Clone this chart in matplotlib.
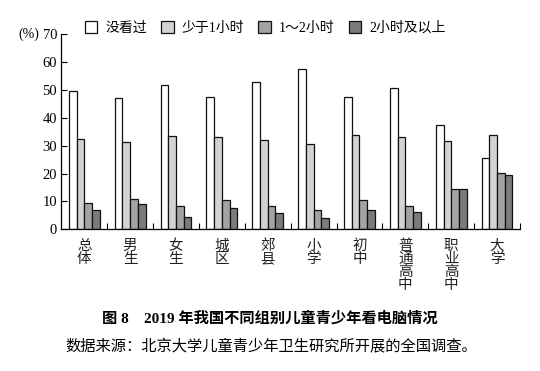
import matplotlib
matplotlib.use("Agg")
import matplotlib.pyplot as plt
import numpy as np

plt.rcParams['font.family'] = ['Liberation Serif', 'Noto Sans CJK SC', 'DejaVu Sans']

categories = ['总体', '男生', '女生', '城区', '郊县', '小学', '初中', '普通高中', '职业高中', '大学']
series_names = ['没看过', '少于1小时', '1～2小时', '2小时及以上']
never = [49.6, 47.1, 51.8, 47.5, 53.0, 57.5, 47.5, 50.7, 37.5, 25.7]
less1 = [32.3, 31.3, 33.5, 33.1, 32.0, 30.7, 33.8, 33.1, 31.7, 33.8]
one_two = [9.4, 10.9, 8.2, 10.6, 8.5, 6.8, 10.6, 8.5, 14.6, 20.3]
over2 = [7.0, 9.1, 4.5, 7.8, 5.7, 3.9, 6.8, 6.3, 14.6, 19.3]
yticks = [0, 10, 20, 30, 40, 50, 60, 70]

colors = ['#ffffff', '#d3d3d3', '#a3a3a3', '#7b7b7b']
data = [never, less1, one_two, over2]

fig = plt.figure(figsize=(5.4, 3.71), dpi=100)
ax = fig.add_axes([0.1135, 0.382, 0.8495, 0.526])

x = np.arange(len(categories))
w = 0.168
for i, (vals, c) in enumerate(zip(data, colors)):
    ax.bar(x + (i - 1.5) * w, vals, width=w, color=c, edgecolor='#111111',
           linewidth=0.9, label=series_names[i], zorder=2)

ax.set_xlim(-0.5, 9.5)
ax.set_ylim(0, 70)
ax.spines['top'].set_visible(False)
ax.spines['right'].set_visible(False)
ax.spines['left'].set_linewidth(0.9)
ax.spines['bottom'].set_linewidth(0.9)
ax.set_yticks(yticks)
ax.set_yticklabels([str(t) for t in yticks], fontsize=10.5)
ax.tick_params(axis='y', direction='in', length=4, width=0.8, pad=3)
ax.set_xticks(np.arange(0.5, 10, 1.0))
ax.set_xticklabels([])
ax.tick_params(axis='x', direction='in', length=4, width=0.8)

# vertical category labels
for xi, cat in zip(x, categories):
    ax.text(xi, -3.5, '\n'.join(cat), ha='center', va='top', fontsize=10.5,
            family=['Noto Sans CJK SC'], linespacing=0.92,
            transform=ax.transData, color='#222222')

fig.text(18 / 540, 1 - 34 / 371, '(%)', ha='left', va='center', fontsize=10)

leg = fig.legend(loc='center left', bbox_to_anchor=(82 / 540, 1 - 28 / 371), ncol=4,
                 frameon=False, handlelength=0.9, handleheight=0.9, handletextpad=0.6,
                 columnspacing=1.0, borderaxespad=0.0, borderpad=0.2,
                 prop={'family': ['Liberation Serif', 'Noto Sans CJK SC'], 'size': 10})

fig.text(270 / 540, 1 - 318 / 371, '图 8　2019 年我国不同组别儿童青少年看电脑情况',
         ha='center', va='center', fontsize=11, fontweight='bold',
         family=['Liberation Serif', 'Noto Sans CJK SC'])
fig.text(65 / 540, 1 - 347 / 371, '数据来源：北京大学儿童青少年卫生研究所开展的全国调查。',
         ha='left', va='center', fontsize=11, family=['Noto Sans CJK SC'])

fig.savefig('out.png', dpi=100)
